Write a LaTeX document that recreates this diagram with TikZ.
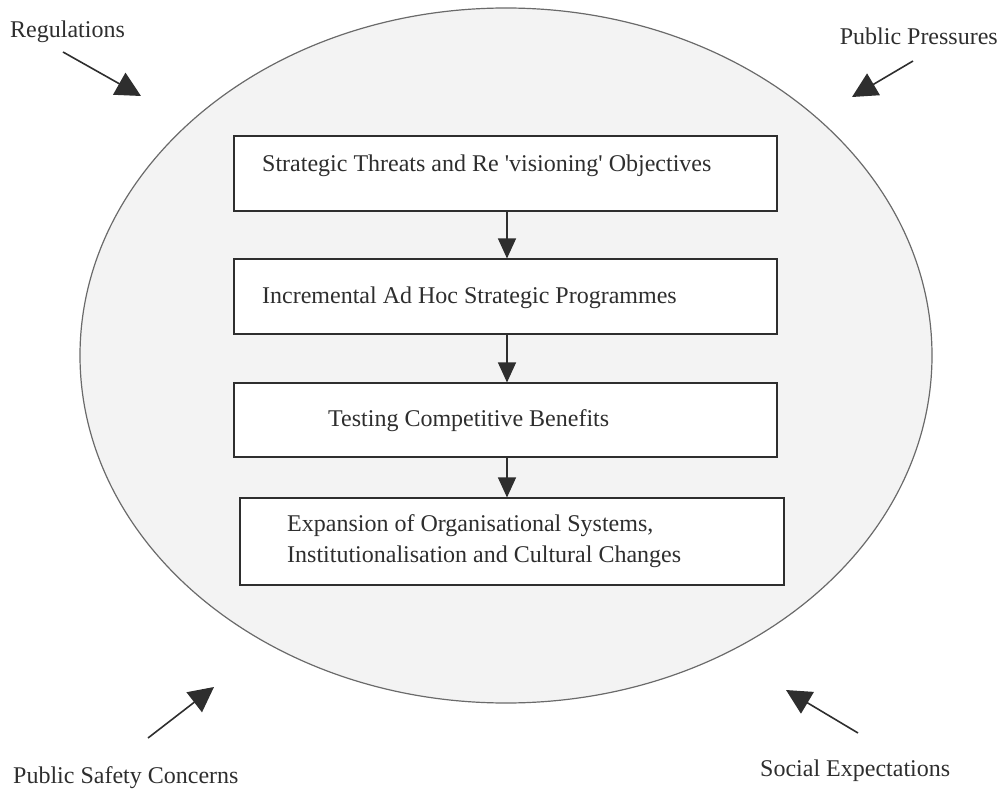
\documentclass[tikz,border=0pt]{standalone}
\usepackage{fontspec}
\setmainfont{Liberation Serif}
\usetikzlibrary{arrows.meta}
\definecolor{ovalfill}{HTML}{F3F3F3}
\definecolor{ovalline}{HTML}{6A6A6A}
\definecolor{ink}{HTML}{2E2E2E}
\begin{document}
\begin{tikzpicture}[x=1pt,y=-1pt,
  stagebox/.style={draw=ink,line width=1.1pt,fill=white,rectangle,inner sep=0pt},
  stagetext/.style={anchor=west,inner sep=0pt,text=ink,font=\fontsize{24}{31}\selectfont,align=left},
  force/.style={inner sep=0pt,text=ink,font=\fontsize{24}{29}\selectfont},
  flow/.style={draw=ink,line width=1.2pt,-{Triangle[length=20pt,width=18pt]}},
  push/.style={draw=ink,line width=1.6pt,-{Triangle[length=25pt,width=25pt]}}]
\useasboundingbox (0,0) rectangle (1001,794);

% the organisation
\draw[fill=ovalfill,draw=ovalline,line width=1.2pt] (506,355.5) ellipse [x radius=426,y radius=347.5];

% stages of change
\node[stagebox,minimum width=543pt,minimum height=75pt] (b1) at (505.5,173.5) {};
\node[stagebox,minimum width=543pt,minimum height=75pt] (b2) at (505.5,296.5) {};
\node[stagebox,minimum width=543pt,minimum height=74pt] (b3) at (505.5,420) {};
\node[stagebox,minimum width=544pt,minimum height=87pt] (b4) at (512,541.5) {};

\node[stagetext] (t1) at (262,166) {Strategic Threats and Re \textquotesingle visioning\textquotesingle{} Objectives};
\node[stagetext] (t2) at (262,298) {Incremental Ad Hoc Strategic Programmes};
\node[stagetext] (t3) at (328,421) {Testing Competitive Benefits};
\node[stagetext] (t4) at (287,541) {Expansion of Organisational Systems,\\Institutionalisation and Cultural Changes};

\draw[flow] (b1.south -| 507,0) -- (b2.north -| 507,0);
\draw[flow] (b2.south -| 507,0) -- (b3.north -| 507,0);
\draw[flow] (b3.south -| 507,0) -- (b4.north -| 507,0);

% external forces
\node[force,anchor=west] (reg) at (10,32) {Regulations};
\node[force,anchor=east] (pub) at (998,36) {Public Pressures};
\node[force,anchor=west] (saf) at (13,778) {Public Safety Concerns};
\node[force,anchor=west] (soc) at (760,771) {Social Expectations};

\coordinate (regA) at (63,52);   \coordinate (regB) at (141,96);
\coordinate (pubA) at (913,61);  \coordinate (pubB) at (852,97);
\coordinate (safA) at (148,738); \coordinate (safB) at (214,687);
\coordinate (socA) at (858,733); \coordinate (socB) at (786,690);

\draw[push] (regA) -- (regB);
\draw[push] (pubA) -- (pubB);
\draw[push] (safA) -- (safB);
\draw[push] (socA) -- (socB);
\end{tikzpicture}
\end{document}
